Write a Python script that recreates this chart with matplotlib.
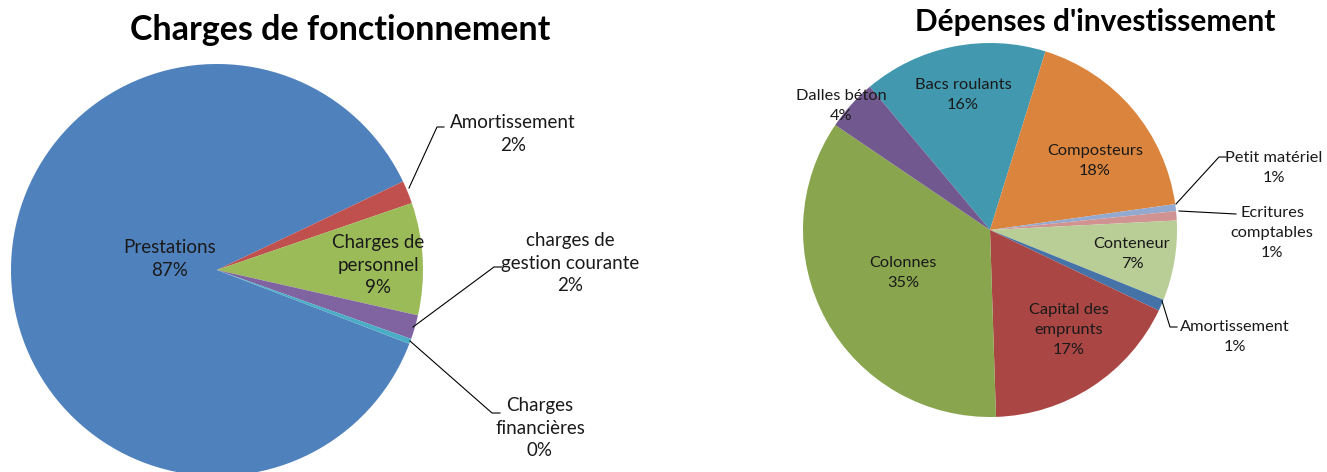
import matplotlib
matplotlib.use("Agg")
import matplotlib.pyplot as plt

plt.rcParams['font.family'] = ['Lato', 'DejaVu Sans']

# ---- data ----
fonct_labels = ["Prestations", "Amortissement", "Charges de\npersonnel",
                "charges de\ngestion courante", "Charges\nfinancières"]
fonct_values = [87.1, 1.8, 8.8, 1.9, 0.4]
fonct_colors = ["#4F81BD", "#C0504D", "#9BBB59", "#8064A2", "#4BACC6"]

invest_labels = ["Bacs roulants", "Composteurs", "Petit matériel",
                 "Ecritures\ncomptables", "Conteneur", "Amortissement",
                 "Capital des\nemprunts", "Colonnes", "Dalles béton"]
invest_values = [15.9, 18.0, 0.6, 0.8, 6.9, 1.0, 17.4, 35.0, 4.4]
invest_colors = ["#4198AF", "#DB843D", "#93A9CF", "#D19392", "#B9CD96",
                 "#4572A7", "#AA4643", "#89A54E", "#71588F"]

W, H = 1327, 472
fig = plt.figure(figsize=(W / 100, H / 100), dpi=100)

# ---- left pie ----
cxL, cyL, rL = 217, 270, 206
axL = fig.add_axes([0, 0, 660 / W, 1])
axL.pie(fonct_values, colors=fonct_colors, startangle=-21, counterclock=False,
        radius=1, wedgeprops=dict(linewidth=0))
axL.set_aspect('auto')
axL.set_xlim((0 - cxL) / rL, (660 - cxL) / rL)
axL.set_ylim((cyL - H) / rL, cyL / rL)
axL.axis('off')

def L(x, y):
    return ((x - cxL) / rL, (cyL - y) / rL)

# label positions (pixel centers) and leader lines
fonct_pos = [(170, 259), (513, 134), (378, 265), (570, 263), (540, 428)]
for lab, val, pos in zip(fonct_labels, fonct_values, fonct_pos):
    axL.text(*L(*pos), f"{lab}\n{round(val):d}%", ha='center', va='center',
             fontsize=13.5, color='#1a1a1a', linespacing=1.38)

leadersL = [[(409, 188), (437, 127), (444, 127)],
            [(413, 327), (494, 267), (502, 267)],
            [(410, 341), (492, 413), (500, 413)]]
for pts in leadersL:
    xs, ys = zip(*[L(*p) for p in pts])
    axL.plot(xs, ys, color='black', lw=0.8)

# ---- right pie ----
cxR, cyR, rR = 990, 230, 187
axR = fig.add_axes([660 / W, 0, (W - 660) / W, 1])
axR.pie(invest_values, colors=invest_colors, startangle=130, counterclock=False,
        radius=1, wedgeprops=dict(linewidth=0))
axR.set_aspect('auto')
axR.set_xlim((660 - cxR) / rR, (W - cxR) / rR)
axR.set_ylim((cyR - H) / rR, cyR / rR)
axR.axis('off')

def R(x, y):
    return ((x - cxR) / rR, (cyR - y) / rR)

invest_pos = [(963, 95), (1095, 161), (1274, 168), (1272, 233), (1132, 254),
              (1235, 337), (1069, 330), (903, 273), (841, 106)]
for lab, val, pos in zip(invest_labels, invest_values, invest_pos):
    axR.text(*R(*pos), f"{lab}\n{round(val):d}%", ha='center', va='center',
             fontsize=11.8, color='#1a1a1a', linespacing=1.58)

leadersR = [[(1176, 204), (1219, 157), (1226, 157)],
            [(1179, 211), (1236, 214)],
            [(1162, 301), (1170, 327), (1177, 327)]]
for pts in leadersR:
    xs, ys = zip(*[R(*p) for p in pts])
    axR.plot(xs, ys, color='black', lw=0.8)

# ---- titles ----
fig.text(340 / W, 1 - 30 / H, "Charges de fonctionnement", ha='center',
         va='center', fontsize=24.5, fontweight='bold', color='black')
fig.text(1095 / W, 1 - 22 / H, "Dépenses d'investissement", ha='center',
         va='center', fontsize=21.5, fontweight='bold', color='black')

fig.savefig("out.png", dpi=100)
